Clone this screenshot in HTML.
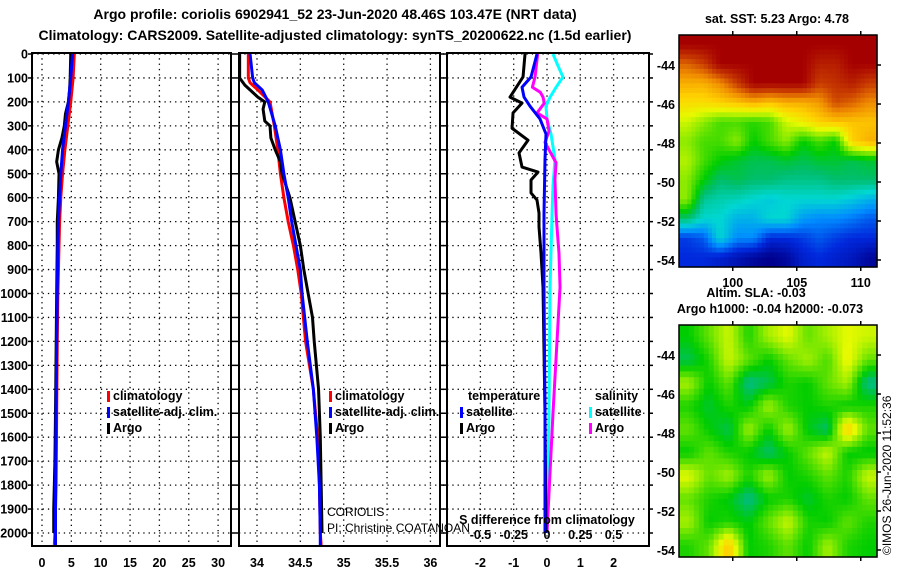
<!DOCTYPE html>
<html><head><meta charset="utf-8">
<style>
body{margin:0;background:#fff;}
svg{display:block;font-family:"Liberation Sans",Arial,sans-serif;}
.t{font-weight:bold;font-size:14px;}
.tk{font-weight:bold;font-size:12.5px;}
.lg{font-weight:bold;font-size:12.5px;}
</style></head><body>
<svg id="s" width="900" height="580" viewBox="0 0 900 580">
<text class="t" x="335" y="19" text-anchor="middle">Argo profile: coriolis 6902941_52 23-Jun-2020 48.46S 103.47E (NRT data)</text>
<text class="t" x="335" y="40" text-anchor="middle">Climatology: CARS2009. Satellite-adjusted climatology: synTS_20200622.nc (1.5d earlier)</text>
<text class="tk" x="777" y="23" text-anchor="middle">sat. SST: 5.23 Argo: 4.78</text>
<text class="tk" x="756" y="297" text-anchor="middle">Altim. SLA: -0.03</text>
<text class="tk" x="770" y="313" text-anchor="middle">Argo h1000: -0.04 h2000: -0.073</text>
<text x="891" y="555" font-size="12" transform="rotate(-90 891 555)">©IMOS 26-Jun-2020 11:52:36</text>
</svg>
<script>
// ---- data ----
const depthLabels=[0,100,200,300,400,500,600,700,800,900,1000,1100,1200,1300,1400,1500,1600,1700,1800,1900,2000];
const tempTicks=[0,5,10,15,20,25,30];
const salTicks=[34,34.5,35,35.5,36];
const salTickLabels=["34","34.5","35","35.5","36"];
const diffTicks=[-2,-1,0,1,2];
const sdiffTicks=[-0.5,-0.25,0,0.25,0.5];
const sdiffLabels=["-0.5","-0.25","0","0.25","0.5"];

const tDepth=[0,100,200,300,400,500,600,700,800,1000,1200,1500,1800,2000,2050];
const tClim=[5.5,5.3,4.9,4.4,3.9,3.5,3.2,3.0,2.9,2.7,2.6,2.5,2.4,2.2,2.1];
const tSat=[5.2,4.9,4.5,4.0,3.5,3.2,3.0,2.8,2.7,2.6,2.5,2.4,2.3,2.3,2.3];
const argoDepth=[0,100,150,200,250,300,350,400,450,500,600,700,800,1000,1500,1700,1900,2000];
const tArgo=[4.9,4.8,4.7,4.5,4.0,3.8,3.4,2.8,2.5,2.9,2.8,2.6,2.6,2.5,2.3,2.2,2.0,2.0];

const sDepth=[0,100,120,150,200,300,400,500,600,700,800,900,1000,1200,1400,1600,1800,2000,2050];
const sClim=[33.90,33.90,33.92,34.01,34.15,34.20,34.24,34.27,34.31,34.36,34.42,34.47,34.51,34.56,34.65,34.70,34.72,34.73,34.74];
const sSat=[33.92,33.95,33.97,34.06,34.13,34.21,34.27,34.31,34.36,34.40,34.45,34.50,34.52,34.58,34.65,34.69,34.72,34.73,34.73];
const sArgoDepth=[0,100,130,180,200,230,280,300,350,400,450,500,600,700,800,900,1000,1100,1200,1400,1600,1800,2000];
const sArgo=[33.80,33.80,33.86,34.01,34.09,34.07,34.09,34.15,34.16,34.21,34.27,34.29,34.38,34.44,34.50,34.54,34.59,34.64,34.66,34.71,34.73,34.74,34.75];

const dDepth=[0,96,180,205,246,310,360,413,472,493,526,580,610,664,722,831,973,1500,2000];
const dTArgo=[-0.66,-0.72,-1.11,-0.75,-1.02,-1.05,-0.57,-0.84,-0.75,-0.27,-0.48,-0.48,-0.3,-0.24,-0.24,-0.18,-0.12,-0.06,-0.03];
const sdDepth=[0,96,139,180,218,271,334,440,668,973,1500,2000];
const dTSat=[-0.3,-0.48,-0.75,-0.69,-0.51,-0.21,-0.03,-0.06,-0.09,-0.09,-0.06,-0.06];
const smDepth=[0,96,139,160,180,205,246,271,322,369,454,522,668,722,831,973,1500,2000];
const dSArgo=[-0.07,-0.09,-0.11,-0.05,-0.03,-0.02,-0.075,0.0,0.015,-0.015,0.068,0.06,0.068,0.075,0.09,0.098,0.045,0.0];
const dSSat=[0.045,0.083,0.12,0.068,0.023,-0.008,0.0,0.03,0.06,0.045,0.038,0.023,0.015,0.0];
const scDepth=[0,50,96,139,180,218,271,334,440,550,668,973,1500,2000];

const sstGrid=[
[1,1,1,1,1,1,1,1,1,1,1,1],
[0.85,0.9,1,1,1,1,1,1,0.95,0.95,1,1],
[0.75,0.75,0.8,0.9,1,1,1,1,0.9,0.92,0.95,0.9],
[0.68,0.68,0.7,0.72,0.75,0.72,0.75,0.75,0.78,0.88,0.85,0.8],
[0.6,0.55,0.5,0.5,0.48,0.5,0.6,0.65,0.7,0.72,0.72,0.72],
[0.55,0.5,0.5,0.55,0.45,0.5,0.55,0.45,0.5,0.45,0.7,0.75],
[0.58,0.5,0.45,0.42,0.4,0.4,0.42,0.4,0.42,0.42,0.4,0.42],
[0.55,0.45,0.38,0.4,0.38,0.38,0.36,0.36,0.36,0.38,0.38,0.38],
[0.55,0.35,0.33,0.32,0.3,0.28,0.3,0.3,0.3,0.3,0.28,0.25],
[0.38,0.3,0.3,0.25,0.25,0.3,0.3,0.22,0.2,0.2,0.18,0.15],
[0.12,0.15,0.3,0.2,0.2,0.1,0.1,0.12,0.15,0.12,0.1,0.1],
[0.1,0.1,0.08,0.05,0.02,0.0,0.02,0.08,0.1,0.08,0.06,0.02]];
const slaGrid=[
[0.45,0.52,0.6,0.47,0.57,0.62,0.52,0.57,0.62,0.6],
[0.4,0.47,0.6,0.52,0.45,0.52,0.57,0.5,0.64,0.52],
[0.57,0.45,0.52,0.36,0.4,0.47,0.45,0.52,0.57,0.36],
[0.47,0.42,0.47,0.44,0.57,0.47,0.45,0.47,0.45,0.47],
[0.52,0.45,0.4,0.57,0.45,0.57,0.44,0.38,0.72,0.52],
[0.45,0.52,0.47,0.45,0.38,0.45,0.52,0.6,0.45,0.44],
[0.62,0.52,0.57,0.47,0.57,0.45,0.47,0.52,0.47,0.6],
[0.52,0.47,0.44,0.36,0.45,0.47,0.42,0.47,0.45,0.52],
[0.57,0.45,0.47,0.44,0.52,0.6,0.47,0.45,0.52,0.47],
[0.47,0.52,0.72,0.45,0.47,0.52,0.45,0.57,0.47,0.45]];
const latTicks=[-44,-46,-48,-50,-52,-54];
const lonTicks=[100,105,110];

// ---- helpers ----
const S=document.getElementById('s');const NS='http://www.w3.org/2000/svg';
function mk(tag,a,parent){const e=document.createElementNS(NS,tag);for(const k in a)e.setAttribute(k,a[k]);(parent||S).appendChild(e);return e;}
const Y0=53,Y1=546;
const yD=d=>54+d*0.2395;
const panels=[
 {name:'temperature',x0:32,x1:231,fx:v=>42+v*5.87},
 {name:'salinity',x0:239,x1:440,fx:v=>257+(v-34)*86.7},
 {name:'difference',x0:447,x1:649,fx:v=>547+v*33.3}];
const fs=v=>547+v*133;

panels.forEach((p,i)=>{
 const g=mk('g',{});
 
 
 p.g=g;
 depthLabels.forEach(d=>{
  const l=mk('line',{x1:p.x0,x2:p.x1,y1:yD(d),y2:yD(d),stroke:'#000','stroke-width':1.3,'stroke-dasharray':'1.3 4'},g);
  
  
  const tk=mk('line',{x1:p.x0-4,x2:p.x0,y1:yD(d),y2:yD(d),stroke:'#000','stroke-width':1.5},g);
  
  
  const tk2=mk('line',{x1:p.x1,x2:p.x1+4,y1:yD(d),y2:yD(d),stroke:'#000','stroke-width':1.5},g);
  
  
 });
 const ticks=i==0?tempTicks:i==1?salTicks:diffTicks;
 ticks.forEach((t,j)=>{
  const x=p.fx(t);
  const l=mk('line',{x1:x,x2:x,y1:Y0,y2:Y1,stroke:'#000','stroke-width':1.3,'stroke-dasharray':'1.3 4'},g);
  
  
  const tx=mk('text',{x:x,y:567,'text-anchor':'middle',class:'tk'},g);
  tx.textContent=i==1?salTickLabels[j]:String(t);
  
  
 });
});
depthLabels.forEach(d=>{
 const tx=mk('text',{x:28,y:yD(d)+4.5,'text-anchor':'end',class:'tk'});
 tx.textContent=d;
 
 
});
function line(g,xs,ds,fx,col,name){
 const pts=xs.map((v,k)=>fx(v)+','+yD(ds[k]));
 const pl=mk('polyline',{points:pts.join(' '),fill:'none',stroke:col,'stroke-width':3,'stroke-linejoin':'round'},g);
 
 
}
const P=panels;
line(P[0].g,tClim,tDepth,P[0].fx,'#f00','temp-climatology-line');
line(P[0].g,tArgo,argoDepth,P[0].fx,'#000','temp-argo-line');
line(P[0].g,tSat,tDepth,P[0].fx,'#00f','temp-satellite-line');
line(P[1].g,sClim,sDepth,P[1].fx,'#f00','sal-climatology-line');
line(P[1].g,sArgo,sArgoDepth,P[1].fx,'#000','sal-argo-line');
line(P[1].g,sSat,sDepth,P[1].fx,'#00f','sal-satellite-line');
line(P[2].g,dSSat,scDepth,fs,'#0ff','sdiff-satellite-line');
line(P[2].g,dSArgo,smDepth,fs,'#f0f','sdiff-argo-line');
line(P[2].g,dTArgo,dDepth,P[2].fx,'#000','tdiff-argo-line');
line(P[2].g,dTSat,sdDepth,P[2].fx,'#00f','tdiff-satellite-line');
panels.forEach(p=>{
 const r=mk('rect',{x:p.x0,y:Y0,width:p.x1-p.x0,height:Y1-Y0,fill:'none',stroke:'#000','stroke-width':2},p.g);
 
 
});
sdiffTicks.forEach((t,j)=>{
 const tx=mk('text',{x:fs(t),y:539,'text-anchor':'middle',class:'tk'});
 tx.textContent=sdiffLabels[j];
 
 
});
const sdl=mk('text',{x:547,y:524,'text-anchor':'middle',class:'tk'});
sdl.textContent='S difference from climatology';


function leg(x,y,col,txt,name){
 const r=mk('rect',{x:x,y:y-9,width:3,height:11,fill:col});
 
 
 const t=mk('text',{x:x+6,y:y,class:'lg'});t.textContent=txt;
 
 
}
[[107],[329]].forEach((a,i)=>{
 leg(a[0],400,'#f00','climatology','legend-climatology');
 leg(a[0],416,'#00f','satellite-adj. clim.','legend-satellite');
 leg(a[0],432,'#000','Argo','legend-argo');
});
const lt=mk('text',{x:468,y:400,class:'lg'});lt.textContent='temperature';


const ls=mk('text',{x:595,y:400,class:'lg'});ls.textContent='salinity';


leg(460,416,'#00f','satellite','legend-t-satellite');
leg(460,432,'#000','Argo','legend-t-argo');
leg(589,416,'#0ff','satellite','legend-s-satellite');
leg(589,432,'#f0f','Argo','legend-s-argo');
const c1=mk('text',{x:327,y:516,'font-size':12});c1.textContent='CORIOLIS';


const c2=mk('text',{x:327,y:532,'font-size':12});c2.textContent='PI: Christine COATANOAN';


function jet(v){
 const stops=[[0,[0,0,140]],[0.1,[0,40,220]],[0.2,[0,140,255]],[0.3,[0,215,210]],[0.38,[0,190,110]],[0.45,[0,205,0]],[0.55,[140,235,0]],[0.62,[230,250,0]],[0.7,[255,210,0]],[0.8,[240,140,0]],[0.9,[200,60,0]],[1,[165,0,0]]];
 v=Math.max(0,Math.min(1,v));
 for(let i=1;i<stops.length;i++){if(v<=stops[i][0]){const a=stops[i-1],b=stops[i],f=(v-a[0])/(b[0]-a[0]);return 'rgb('+a[1].map((c,k)=>Math.round(c+(b[1][k]-c)*f)).join(',')+')';}}
 return 'rgb(165,0,0)';
}
function sample(grid,fr,fc){
 const R=grid.length,C=grid[0].length;
 const r=Math.max(0,Math.min(R-1,fr)),c=Math.max(0,Math.min(C-1,fc));
 const r0=Math.floor(r),c0=Math.floor(c),r1=Math.min(R-1,r0+1),c1=Math.min(C-1,c0+1),a=r-r0,b=c-c0;
 return grid[r0][c0]*(1-a)*(1-b)+grid[r0][c1]*(1-a)*b+grid[r1][c0]*a*(1-b)+grid[r1][c1]*a*b;
}
function map(grid,y0,y1,name,lonLabels){
 const x0=679,x1=877;const g=mk('g',{});
 
 
 const R=grid.length,C=grid[0].length,sub=4,NR=R*sub,NC=C*sub,cw=(x1-x0)/NC,ch=(y1-y0)/NR;
 for(let r=0;r<NR;r++)for(let c=0;c<NC;c++){
  const v=sample(grid,(r+0.5)/sub-0.5,(c+0.5)/sub-0.5);
  const e=mk('rect',{x:x0+c*cw,y:y0+r*ch,width:cw+0.6,height:ch+0.6,fill:jet(v)},g);
  
  
 }
 const f=mk('rect',{x:x0,y:y0,width:x1-x0,height:y1-y0,fill:'none',stroke:'#000','stroke-width':1.5},g);
 
 
 const fy=lat=>y0+( -42.46-lat)*((y1-y0)/11.9);
 const fx=lon=>x0+(lon-95.8)*12.8;
 latTicks.forEach(l=>{
  const t=mk('text',{x:x0-4,y:fy(l)+5,'text-anchor':'end',class:'tk'},g);t.textContent=l;
  
  
  const k=mk('line',{x1:x1,x2:x1+4,y1:fy(l),y2:fy(l),stroke:'#000','stroke-width':1.5},g);
  
  
 });
 lonTicks.forEach(l=>{
  [y0-4,y1].forEach(yy=>{const k=mk('line',{x1:fx(l),x2:fx(l),y1:yy,y2:yy+4,stroke:'#000','stroke-width':1.5},g);
  
  });
  if(lonLabels){const t=mk('text',{x:fx(l),y:y1+20,'text-anchor':'middle',class:'tk'},g);t.textContent=l;
  
  }
 });
}
map(sstGrid,35,267,'sst-map',true);
map(slaGrid,325,557,'sla-map',false);
</script>
</body></html>
